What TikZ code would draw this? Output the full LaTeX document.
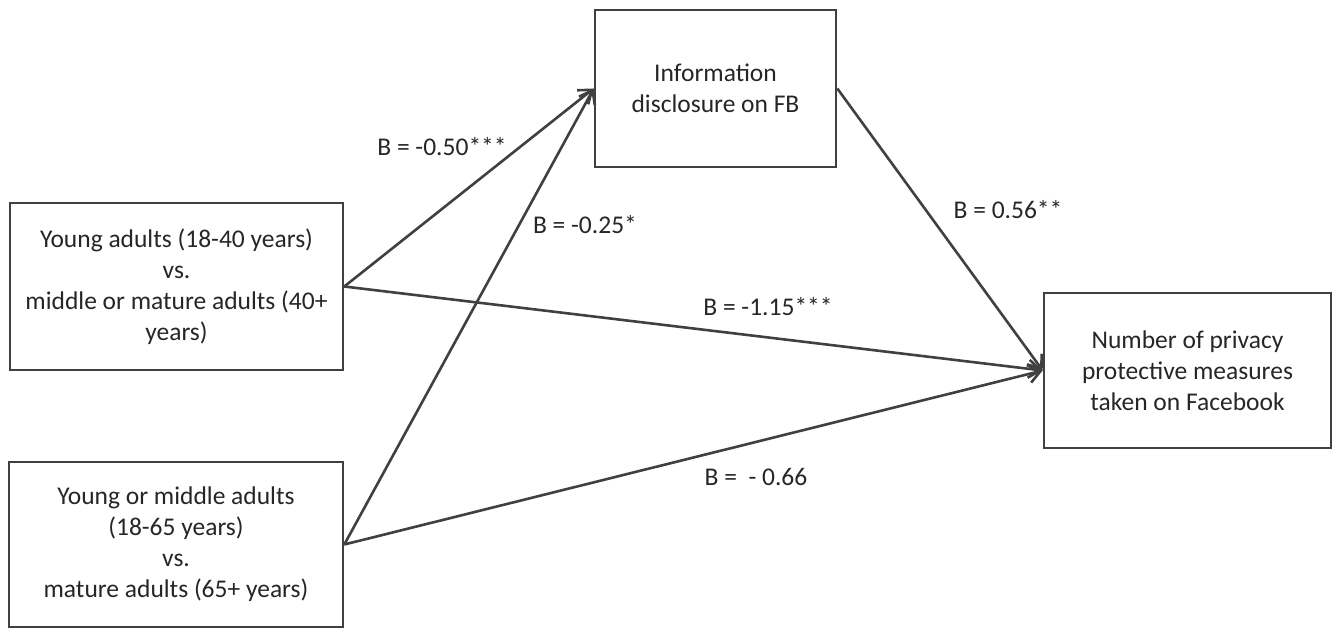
\documentclass[tikz,border=0pt]{standalone}
\usepackage{fontspec}
\setmainfont{Carlito}
\usetikzlibrary{arrows.meta}
\definecolor{linegray}{HTML}{404040}
\begin{document}
\begin{tikzpicture}
    [
        x=1pt, y=-1pt,
        box style/.style={draw=linegray, line width=2.6pt, align=center, inner sep=0pt, font=\fontsize{25.5}{31}\selectfont, text=black!85},
        path style/.style={-{Straight Barb[length=12pt,width=18pt,line width=2.6pt]}, draw=linegray, line width=2.6pt},
        coef style/.style={font=\fontsize{25.5}{31}\selectfont, text=black!85}
    ]
    \useasboundingbox (0,0) rectangle (1333,628);
    \node[box style, minimum width=333pt, minimum height=167pt] (young) at (176.5,286.5) {Young adults (18-40 years)\\vs.\\middle or mature adults (40+\\years)};
    \node[box style, minimum width=334pt, minimum height=165pt] (mature) at (176,544.5) {Young or middle adults\\(18-65 years)\\vs.\\mature adults (65+ years)};
    \node[box style, minimum width=241pt, minimum height=157pt] (disclosure) at (715.5,88.5) {Information\\disclosure on FB};
    \node[box style, minimum width=287pt, minimum height=155pt] (measures) at (1187.5,370.5) {Number of privacy\\protective measures\\taken on Facebook};
    % paths
    \draw[path style] (young.east) -- (disclosure.west);
    \draw[path style] (mature.east) -- (disclosure.west);
    \draw[path style] (young.east) -- (measures.west);
    \draw[path style] (mature.east) -- (measures.west);
    \draw[path style] (disclosure.east) -- (measures.west);
    % coefficients
    \node[coef style] (b1) at (442,147) {B = -0.50***};
    \node[coef style] (b2) at (585,225) {B = -0.25*};
    \node[coef style] (b3) at (768,307) {B = -1.15***};
    \node[coef style] (b4) at (756,477) {B = \ - 0.66};
    \node[coef style] (b5) at (1008,210) {B = 0.56**};
\end{tikzpicture}
\end{document}
